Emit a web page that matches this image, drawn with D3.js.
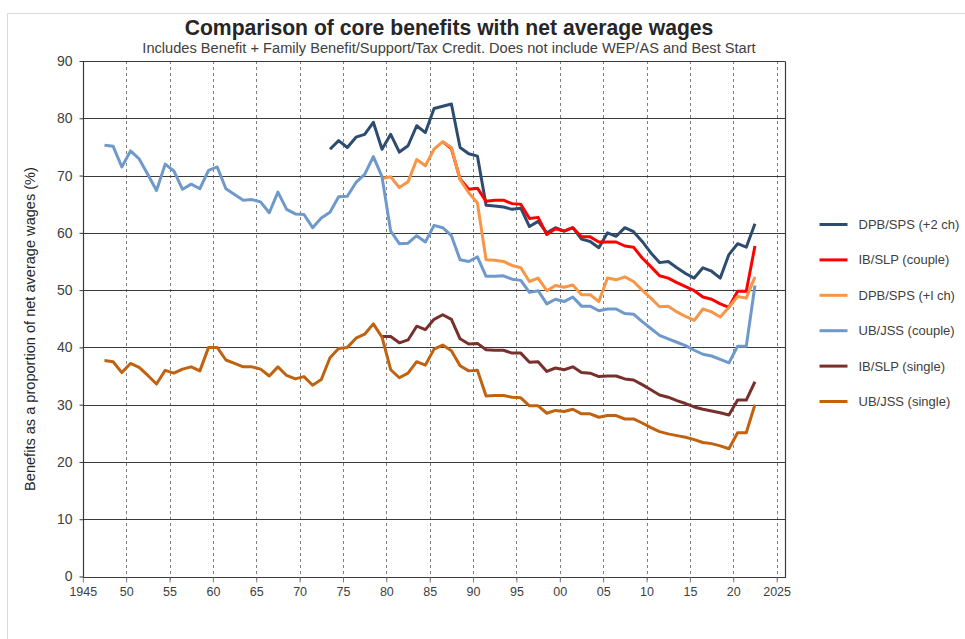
<!DOCTYPE html>
<html><head><meta charset="utf-8">
<script src="https://cdn.jsdelivr.net/npm/d3@7"></script>
<style>
html,body{margin:0;padding:0;background:#fff;}
svg{display:block;font-family:"Liberation Sans",Arial,sans-serif;}
</style></head>
<body>
<svg id="chart" width="965" height="639"></svg>
<script>
// ---- data ----
const seriesNames = ["DPB/SPS (+2 ch)", "IB/SLP (couple)", "DPB/SPS (+l ch)", "UB/JSS (couple)", "IB/SLP (single)", "UB/JSS (single)"];
const seriesColors = ["#2d4c6f", "#ff0000", "#f79646", "#7099cb", "#78302d", "#c0620f"];
const startYears = [1973, 1986, 1979, 1947, 1979, 1947];
const lastYear = 2022;

const dpb2 = [74.6,76.1,74.9,76.7,77.2,79.3,74.6,77.2,74.1,75.2,78.7,77.5,81.7,82.1,82.5,74.9,73.8,73.4,
  64.8,64.7,64.5,64.1,64.3,61.1,62.0,60.0,60.9,60.3,60.9,58.9,58.5,57.4,60.0,59.4,60.9,60.2,58.5,56.5,
  54.8,55.0,53.9,52.9,52.1,53.9,53.3,52.1,56.2,58.1,57.5,61.6];
const ibCouple = [75.9,74.7,69.4,67.6,67.8,65.5,65.7,65.7,65.1,65.0,62.5,62.7,59.7,60.7,60.3,60.9,59.3,59.3,
  58.4,58.4,58.4,57.7,57.5,55.6,54.1,52.5,52.1,51.3,50.6,49.9,48.8,48.4,47.6,47.0,49.8,49.8,57.7];
const dpb1 = [69.5,69.8,67.9,68.9,72.8,71.7,74.6,75.9,74.9,69.3,67.0,65.2,55.3,55.2,55.0,54.3,53.9,51.5,
  52.1,49.9,50.8,50.5,50.9,49.2,49.2,48.0,52.1,51.8,52.3,51.5,50.0,48.6,47.1,47.2,46.2,45.4,44.7,46.7,
  46.2,45.3,47.0,48.9,48.6,52.3];
const ubCouple = [75.3,75.1,71.5,74.3,72.9,70.2,67.4,72.0,70.8,67.6,68.5,67.7,70.9,71.5,67.7,66.7,65.7,65.8,
  65.4,63.5,67.1,64.1,63.3,63.2,60.9,62.6,63.6,66.3,66.4,68.8,70.2,73.3,69.8,60.3,58.1,58.2,59.5,58.4,
  61.3,60.9,59.5,55.3,55.0,55.8,52.4,52.4,52.5,51.9,51.7,49.6,49.9,47.6,48.4,48.0,48.8,47.2,47.2,46.4,
  46.7,46.7,45.9,45.8,44.5,43.3,42.1,41.5,40.9,40.3,39.5,38.8,38.5,37.9,37.3,40.2,40.2,50.8];
const ibSingle = [41.9,41.9,40.8,41.3,43.7,43.1,44.9,45.7,44.9,41.5,40.6,40.7,39.6,39.5,39.5,39.0,39.0,37.4,
  37.5,35.8,36.4,36.1,36.6,35.6,35.5,34.9,35.0,35.0,34.5,34.3,33.5,32.6,31.7,31.3,30.7,30.2,29.6,29.2,
  28.9,28.6,28.2,30.8,30.8,34.0];
const ubSingle = [37.7,37.5,35.6,37.2,36.5,35.1,33.6,36.0,35.5,36.2,36.6,35.9,40.0,40.0,37.8,37.2,36.6,36.6,
  36.2,35.0,36.6,35.1,34.5,34.9,33.4,34.4,38.2,39.8,40.0,41.6,42.3,44.1,41.8,36.1,34.7,35.5,37.5,36.9,
  39.7,40.4,39.4,36.8,35.9,36.0,31.5,31.6,31.6,31.3,31.2,29.8,29.8,28.5,29.0,28.8,29.2,28.4,28.4,27.8,
  28.1,28.1,27.5,27.5,26.8,26.0,25.3,24.9,24.6,24.3,23.9,23.4,23.2,22.8,22.3,25.1,25.1,30.0];
const seriesValues = [dpb2, ibCouple, dpb1, ubCouple, ibSingle, ubSingle];

const yTicks = [0,10,20,30,40,50,60,70,80,90];
const xTicks = [1945,1950,1955,1960,1965,1970,1975,1980,1985,1990,1995,2000,2005,2010,2015,2020,2025];
const xTickLabels = ["1945","50","55","60","65","70","75","80","85","90","95","00","05","10","15","20","2025"];

const titleText = "Comparison of core benefits with  net average wages";
const subtitleText = "Includes Benefit + Family Benefit/Support/Tax Credit. Does not include WEP/AS and Best Start";
const yAxisTitle = "Benefits as a proportion of net average wages (%)";

// ---- chart ----
const svg = d3.select("#chart");
const plot = {left: 82.8, right: 785.3, top: 61, bottom: 576.5};
const x = d3.scaleLinear().domain([1945, 2026]).range([plot.left, plot.right]);
const y = d3.scaleLinear().domain([0, 90]).range([plot.bottom, plot.top]);
const textColor = "#404040";

// outer border (light)
svg.append("path").attr("d", "M7.5,639 L7.5,13.5 L965,13.5")
  .attr("fill", "none").attr("stroke", "#d9d9d9").attr("stroke-width", 1);

// vertical dashed gridlines
svg.append("g").selectAll("line").data(xTicks.filter(d => d > 1945)).join("line")
  .attr("x1", d => Math.round(x(d)) + 0.5).attr("x2", d => Math.round(x(d)) + 0.5)
  .attr("y1", plot.top).attr("y2", plot.bottom + 5)
  .attr("stroke", "#7f7f7f").attr("stroke-width", 1).attr("stroke-dasharray", "3,3");

// horizontal gridlines
svg.append("g").selectAll("line").data(yTicks.filter(d => d > 0)).join("line")
  .attr("x1", plot.left).attr("x2", plot.right)
  .attr("y1", d => Math.round(y(d)) + 0.5).attr("y2", d => Math.round(y(d)) + 0.5)
  .attr("stroke", "#3a3a3a").attr("stroke-width", 1);

// frame: left, bottom, right
const L = Math.round(plot.left) + 0.5, B = Math.round(plot.bottom) + 0.5, R = Math.round(plot.right) + 0.5;
svg.append("path").attr("d", `M${L},${Math.round(plot.top)+0.5} L${L},${B} L${R},${B} L${R},${Math.round(plot.top)+0.5}`)
  .attr("fill", "none").attr("stroke", "#3a3a3a").attr("stroke-width", 1.2);

// y axis
const yAxis = d3.axisLeft(y).tickValues(yTicks).tickSize(4).tickPadding(7);
const gy = svg.append("g").attr("transform", `translate(${L},0)`).call(yAxis);
gy.select(".domain").remove();
gy.selectAll("line").attr("stroke", "#3a3a3a");
gy.selectAll("text").attr("fill", textColor).attr("font-size", 14).attr("font-family", "Liberation Sans, Arial, sans-serif");

// x axis
const xAxis = d3.axisBottom(x).tickValues(xTicks).tickFormat((d, i) => xTickLabels[i]).tickSize(5).tickPadding(5);
const gx = svg.append("g").attr("transform", `translate(0,${B})`).call(xAxis);
gx.select(".domain").remove();
gx.selectAll("line").attr("stroke", "#7f7f7f");
gx.selectAll("text").attr("fill", textColor).attr("font-size", 12.5).attr("font-family", "Liberation Sans, Arial, sans-serif");

// lines
const line = d3.line()
  .defined(d => d.v != null)
  .x(d => x(d.year + 0.5))
  .y(d => y(d.v));

seriesValues.forEach((vals, i) => {
  const pts = vals.map((v, k) => ({year: startYears[i] + k, v}));
  svg.append("path").datum(pts)
    .attr("fill", "none").attr("stroke", seriesColors[i]).attr("stroke-width", 3)
    .attr("stroke-linejoin", "round").attr("stroke-linecap", "butt")
    .attr("d", line);
});

// legend
const legendRowY = d3.scalePoint().domain(seriesNames).range([224.5, 401.5]);
const lg = svg.append("g");
seriesNames.forEach((name, i) => {
  const ly = legendRowY(name);
  lg.append("line").attr("x1", 819.5).attr("x2", 847.5).attr("y1", ly).attr("y2", ly)
    .attr("stroke", seriesColors[i]).attr("stroke-width", 3);
  lg.append("text").attr("x", 858.5).attr("y", ly).attr("dy", "0.35em")
    .attr("fill", textColor).attr("font-size", 13).text(name);
});

// titles
function fitText(sel, targetWidth) {
  const w = sel.node().getComputedTextLength();
  const fs = parseFloat(sel.attr("font-size"));
  sel.attr("font-size", fs * targetWidth / w);
}
const t = svg.append("text").attr("x", 449).attr("y", 35).attr("text-anchor", "middle")
  .attr("font-weight", "bold").attr("font-size", 18).attr("fill", "#262626").text(titleText);
fitText(t, 529);
const st = svg.append("text").attr("x", 449).attr("y", 53).attr("text-anchor", "middle")
  .attr("font-size", 14).attr("fill", textColor).text(subtitleText);
fitText(st, 614);
const yt = svg.append("text").attr("transform", "translate(35,329) rotate(-90)")
  .attr("text-anchor", "middle").attr("font-size", 14).attr("fill", "#262626").text(yAxisTitle);
fitText(yt, 324);
</script>
</body></html>
